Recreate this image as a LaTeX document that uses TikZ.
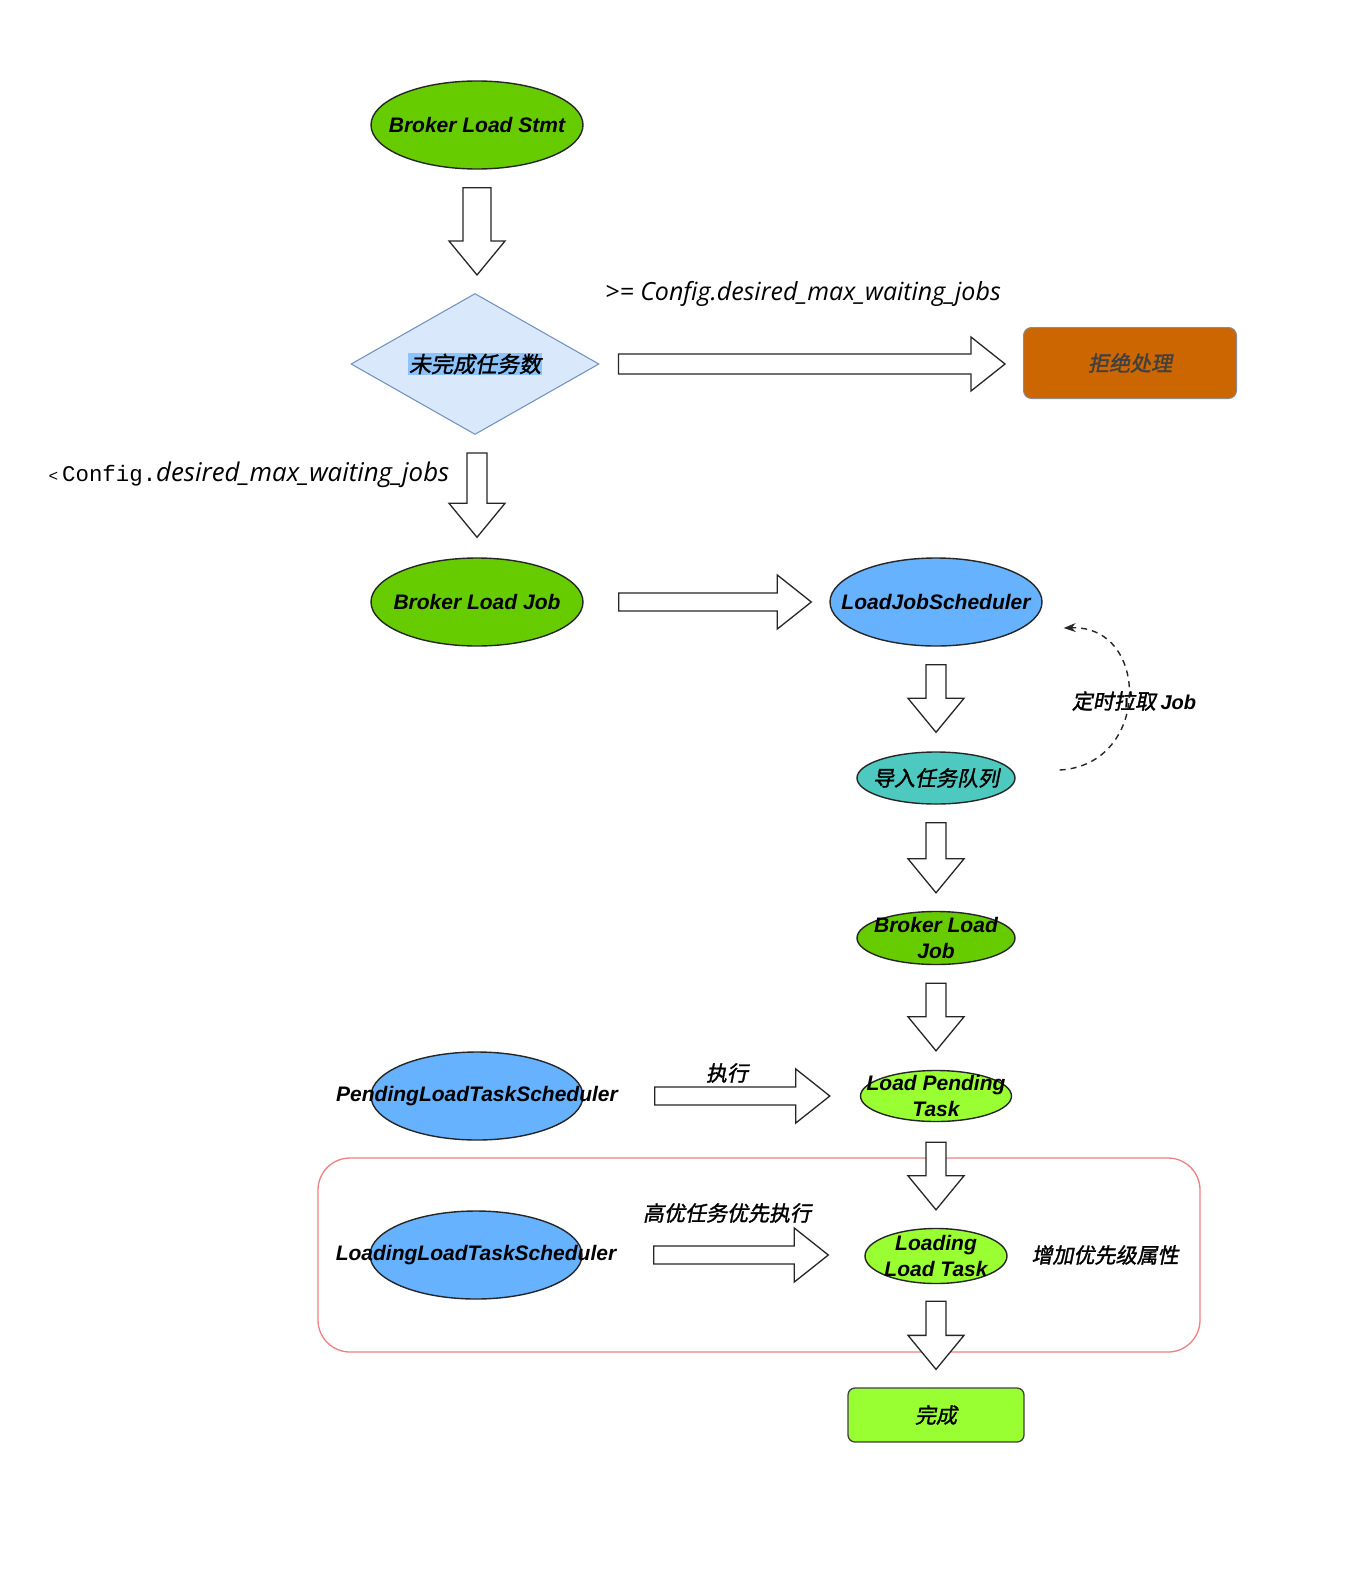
\documentclass[tikz,border=0pt]{standalone}
\usepackage{fontspec}
\setmainfont{Liberation Sans}
\setmonofont{Liberation Mono}
\newfontfamily\cjk{Noto Sans CJK SC}[FakeSlant=0.2,FakeBold=1.5]
\newfontfamily\cmc{Open Sans}
\usepackage{xcolor}
\usetikzlibrary{shapes.geometric,arrows.meta,calc}

\definecolor{jobgreen}{RGB}{102,204,0}
\definecolor{taskgreen}{RGB}{153,255,51}
\definecolor{schedblue}{RGB}{102,178,255}
\definecolor{queueteal}{RGB}{77,201,192}
\definecolor{diafill}{RGB}{218,232,252}
\definecolor{diadraw}{RGB}{108,142,191}
\definecolor{hlblue}{RGB}{140,195,250}
\definecolor{rejorange}{RGB}{204,102,0}
\definecolor{prioline}{RGB}{240,128,128}

\newcommand\dnarrow[3]{%
  \draw[blockarr] let \p1=(#2), \p2=(#3) in
    (\x1-#1,\y1) -- (\x1+#1,\y1) -- (\x1+#1,\y2+34) -- (\x1+28,\y2+34)
    -- (\x1,\y2) -- (\x1-28,\y2+34) -- (\x1-#1,\y2+34) -- cycle;}
\newcommand\rtarrow[3]{%
  \draw[blockarr] let \p1=(#2), \p2=(#3) in
    (\x1,\y1+#1) -- (\x2-34,\y1+#1) -- (\x2-34,\y1+27) -- (\x2,\y1)
    -- (\x2-34,\y1-27) -- (\x2-34,\y1-#1) -- (\x1,\y1-#1) -- cycle;}

\begin{document}
\begin{tikzpicture}[
    x=1pt, y=-1pt,
    oval/.style={ellipse, draw=black!85, line width=1.4pt, inner xsep=-75pt, inner ysep=-15pt,
      align=center, font=\fontsize{21}{25.5}\selectfont\bfseries\itshape},
    bigoval/.style={oval, minimum width=212, minimum height=88},
    smalloval/.style={oval, minimum width=158, minimum height=52},
    blockarr/.style={draw=black!85, fill=white, line width=1.3pt, line join=miter},
    cjklbl/.style={font=\fontsize{21}{25}\selectfont\cjk},
    cmclbl/.style={font=\fontsize{25}{30}\selectfont\cmc\itshape},
    pull/.style={draw=black!85, line width=1.4pt, dash pattern=on 6pt off 5pt,
      -{Stealth[length=12pt,width=9pt]}},
]
\fill[white] (0,0) rectangle (1372,1584);
\useasboundingbox (0,0) rectangle (1372,1584);

\draw[prioline, line width=1.3pt, rounded corners=32pt] (318,1158) rectangle (1200,1352);

\node[bigoval, fill=jobgreen] (stmt) at (477,125) {Broker Load Stmt};
\node[diamond, aspect=1.76, fill=diafill, draw=diadraw, line width=1pt, inner sep=0pt,
  minimum width=248, minimum height=141] (unfin) at (475,364)
  {\setlength\fboxsep{1pt}\colorbox{hlblue}{\fontsize{22}{26}\selectfont\cjk 未完成任务数}};
\node[rectangle, rounded corners=8pt, fill=rejorange, draw=black!45, line width=1pt,
  minimum width=213, minimum height=71, cjklbl, text=black!75] (reject) at (1130,363) {拒绝处理};
\node[bigoval, fill=jobgreen] (job) at (477,602) {Broker Load Job};
\node[bigoval, fill=schedblue] (ljsched) at (936,602) {LoadJobScheduler};
\node[smalloval, fill=queueteal, font=\fontsize{21}{25}\selectfont\cjk] (queue) at (936,778) {导入任务队列};
\node[smalloval, fill=jobgreen, minimum height=53] (bjob) at (936,938) {Broker Load\\Job};
\node[oval, fill=taskgreen, minimum width=151, minimum height=51] (pendtask) at (936,1096) {Load Pending\\Task};
\node[bigoval, fill=schedblue] (pendsched) at (477,1096) {PendingLoadTaskScheduler};
\node[oval, fill=taskgreen, minimum width=142, minimum height=55] (loadtask) at (936,1256) {Loading\\Load Task};
\node[bigoval, fill=schedblue] (loadsched) at (476,1255) {LoadingLoadTaskScheduler};
\node[rectangle, rounded corners=7pt, fill=taskgreen, draw=black!75, line width=1.3pt,
  minimum width=176, minimum height=54, cjklbl] (done) at (936,1415) {完成};

\node[cmclbl] (geq) at (803,294) {>= Config.desired\_max\_waiting\_jobs};
\node[anchor=west] (lt) at (45,475)
  {{\fontsize{16}{20}\selectfont\ttfamily <}\hspace{4pt}{\fontsize{22.4}{26}\selectfont\ttfamily Config.}{\cmc\itshape\fontsize{25.8}{30}\selectfont desired\_max\_waiting\_jobs}};
\node[cjklbl] (pulllbl) at (1134,701) {定时拉取 {\fontsize{20}{24}\selectfont\normalfont\bfseries\itshape Job}};
\node[cjklbl] (runlbl) at (727,1073) {执行};
\node[cjklbl] (priolbl) at (727,1213) {高优任务优先执行};
\node[cjklbl] (addlbl) at (1105,1255) {增加优先级属性};

\dnarrow{14}{$(stmt.south)+(0,18)$}{$(unfin.north)+(0,-18)$}
\rtarrow{10}{$(unfin.east)+(19,0)$}{$(reject.west)+(-18,0)$}
\dnarrow{10}{$(unfin.south)+(2,18)$}{$(job.north)+(0,-20)$}
\rtarrow{9}{$(job.east)+(35,0)$}{$(ljsched.west)+(-18,0)$}
\dnarrow{10}{$(ljsched.south)+(0,18)$}{$(queue.north)+(0,-19)$}
\dnarrow{10}{$(queue.south)+(0,18)$}{$(bjob.north)+(0,-18)$}
\dnarrow{10}{$(bjob.south)+(0,18)$}{$(pendtask.north)+(0,-19)$}
\rtarrow{9}{$(pendsched.east)+(71,0)$}{$(pendtask.west)+(-30,0)$}
\dnarrow{10}{$(pendtask.south)+(0,20)$}{$(loadtask.north)+(0,-18)$}
\rtarrow{9}{$(loadsched.east)+(71,0)$}{$(loadtask.west)+(-36,0)$}
\dnarrow{10}{$(loadtask.south)+(0,17)$}{$(done.north)+(0,-18)$}

\coordinate (pullS) at ($(queue.east)+(44,-8)$);
\coordinate (pullE) at ($(ljsched.east)+(21,26)$);
\draw[pull] (pullS) .. controls +(91,-5) and +(87,-3) .. (pullE);
\end{tikzpicture}
\end{document}
